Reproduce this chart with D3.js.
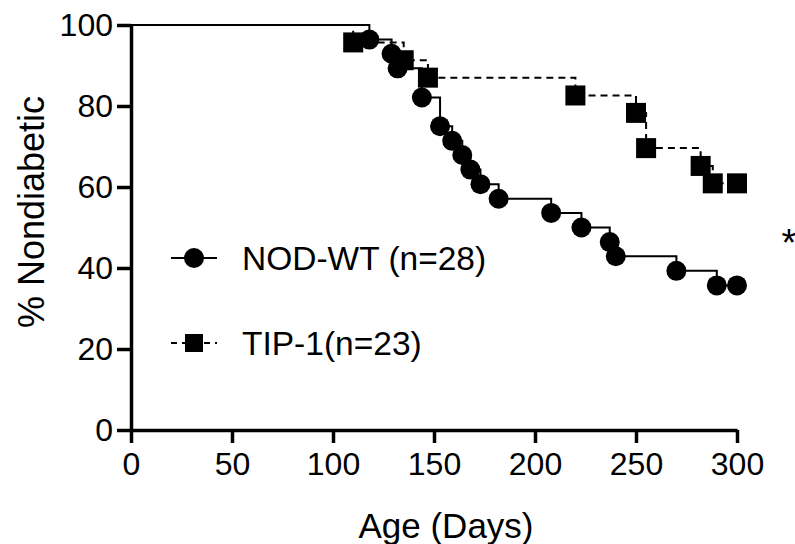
<!DOCTYPE html>
<meta charset="utf-8">
<style>
body { margin: 0; background: #fff; font-family: Arial, "Liberation Sans", Helvetica, sans-serif; }
.axis path, .axis line { stroke: #000; stroke-width: 3.5px; }
.axis text { font-size: 32px; fill: #000; }
</style>
<svg width="795" height="544"></svg>
<script src="https://d3js.org/d3.v7.min.js"></script>
<script>

// NOD-WT (n=28): days of each step and % nondiabetic after it
var wtDays = [118, 129, 132, 144, 153, 159, 164, 168, 173, 182, 208, 223, 237, 240, 270, 290, 300];
var wtPct  = [96.4, 92.9, 89.3, 82.1, 75.0, 71.4, 67.9, 64.3, 60.7, 57.1, 53.6, 50.0, 46.4, 42.9, 39.3, 35.7, 35.7];

// TIP-1 (n=23)
var tipDays = [110, 135, 147, 220, 250, 255, 282, 288, 300];
var tipPct  = [95.7, 91.3, 87.0, 82.6, 78.3, 69.6, 65.2, 60.9, 60.9];

var xTicks = [0, 50, 100, 150, 200, 250, 300];
var yTicks = [0, 20, 40, 60, 80, 100];

var svg = d3.select("svg");

var x = d3.scaleLinear().domain([0, 300]).range([131, 737]);
var y = d3.scaleLinear().domain([0, 100]).range([430, 25]);

function toPoints(days, pct) {
  var pts = [[0, 100]];
  days.forEach(function(d, i) { pts.push([d, pct[i]]); });
  return pts;
}

var line = d3.line()
    .x(function(d) { return x(d[0]); })
    .y(function(d) { return y(d[1]); })
    .curve(d3.curveStepAfter);

var wt = toPoints(wtDays, wtPct);
var tip = toPoints(tipDays, tipPct);

// axes
svg.append("g")
    .attr("class", "axis")
    .attr("transform", "translate(0," + y(0) + ")")
    .call(d3.axisBottom(x).tickValues(xTicks).tickSize(13).tickPadding(5).tickSizeOuter(0))
    .selectAll("text").attr("dy", "0.85em");

svg.append("g")
    .attr("class", "axis")
    .attr("transform", "translate(" + x(0) + ",0)")
    .call(d3.axisLeft(y).tickValues(yTicks).tickSize(14).tickPadding(4).tickSizeOuter(0));

// curves
svg.append("path")
    .attr("d", line(tip))
    .attr("fill", "none").attr("stroke", "#000").attr("stroke-width", 2)
    .attr("stroke-dasharray", "7,5");

svg.append("path")
    .attr("d", line(wt))
    .attr("fill", "none").attr("stroke", "#000").attr("stroke-width", 2);

svg.append("g").selectAll("rect")
    .data(tip.slice(1))
    .enter().append("rect")
    .attr("x", function(d) { return x(d[0]) - 10; })
    .attr("y", function(d) { return y(d[1]) - 10; })
    .attr("width", 20).attr("height", 20)
    .attr("fill", "#000");

svg.append("g").selectAll("circle")
    .data(wt.slice(1))
    .enter().append("circle")
    .attr("cx", function(d) { return x(d[0]); })
    .attr("cy", function(d) { return y(d[1]); })
    .attr("r", 10)
    .attr("fill", "#000");

// legend
var legend = svg.append("g");
legend.append("line").attr("x1", 171).attr("x2", 217).attr("y1", 258).attr("y2", 258)
    .attr("stroke", "#000").attr("stroke-width", 2);
legend.append("circle").attr("cx", 194).attr("cy", 258).attr("r", 10).attr("fill", "#000");
legend.append("text").attr("x", 242).attr("y", 258).attr("dy", "0.35em")
    .style("font-size", "33.5px").text("NOD-WT (n=28)");

legend.append("line").attr("x1", 171).attr("x2", 217).attr("y1", 343).attr("y2", 343)
    .attr("stroke", "#000").attr("stroke-width", 2).attr("stroke-dasharray", "6,5");
legend.append("rect").attr("x", 185).attr("y", 334).attr("width", 18).attr("height", 18).attr("fill", "#000");
legend.append("text").attr("x", 242).attr("y", 343).attr("dy", "0.35em")
    .style("font-size", "33.5px").text("TIP-1(n=23)");

// titles
svg.append("text")
    .attr("transform", "translate(44,212) rotate(-90)")
    .attr("text-anchor", "middle")
    .style("font-size", "36px")
    .text("% Nondiabetic");

svg.append("text")
    .attr("x", 446).attr("y", 538)
    .attr("text-anchor", "middle")
    .style("font-size", "35px")
    .text("Age (Days)");

svg.append("text")
    .attr("x", 789).attr("y", 256)
    .attr("text-anchor", "middle")
    .style("font-size", "38px")
    .text("*");

</script>
